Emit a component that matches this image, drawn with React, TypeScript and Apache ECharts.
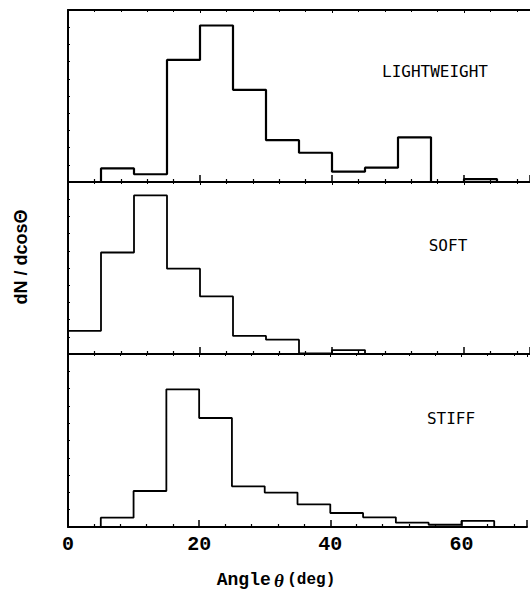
import React, { useEffect, useRef } from "react";
import * as echarts from "echarts";

// Bin edges of the angle histograms (deg)
const binEdges = [0, 5, 10, 15, 20, 25, 30, 35, 40, 45, 50, 55, 60, 65, 70];
// dN/dcosθ (arbitrary units, panel full scale = 100)
const lightweight = [0, 7.9, 4.5, 71, 91, 53.6, 24.3, 17, 6, 8.3, 26, 0, 1.7, 0];
const soft = [13.5, 59, 92.2, 49.6, 33.5, 10.5, 8.3, 0.3, 2.3, 0, 0, 0, 0, 0];
const stiff = [0, 5.4, 20.8, 79.6, 63, 23.5, 19.9, 13.1, 8.1, 5.6, 2.5, 1.3, 3.5, 0];
const panelNames = ["LIGHTWEIGHT", "SOFT", "STIFF"];
const xTickLabels = ["0", "20", "40", "60"];

const stepData = (vals: number[]) => [
  ...vals.map((v, i) => [binEdges[i], v]),
  [binEdges[binEdges.length - 1], vals[vals.length - 1]],
];

export default function App() {
  const ref = useRef<HTMLDivElement>(null);
  useEffect(() => {
    document.body.style.margin = "0";
    if (!ref.current) return;
    const chart = echarts.init(ref.current, null, { renderer: "svg" });
    const grids = [
      { left: 68, width: 462, top: 10, height: 172 },
      { left: 68, width: 462, top: 182, height: 172 },
      { left: 68, width: 462, top: 354, height: 173 },
    ];
    const seriesVals = [lightweight, soft, stiff];
    const labelPos = [
      { x: 435, y: 71 },
      { x: 448, y: 245 },
      { x: 451, y: 418 },
    ];
    const xAxes: any[] = [];
    const yAxes: any[] = [];
    grids.forEach((_, i) => {
      xAxes.push({
        type: "value",
        gridIndex: i,
        min: 0,
        max: 70,
        interval: 20,
        position: "bottom",
        axisLine: { show: true, lineStyle: { color: "#000", width: 2 } },
        axisTick: { show: true, inside: true, length: 7, lineStyle: { color: "#000", width: 1.5 } },
        minorTick: { show: true, splitNumber: 5, length: 3, lineStyle: { color: "#000", width: 1.2 } },
        splitLine: { show: false },
        axisLabel: {
          show: i === 2,
          margin: 7,
          color: "#000",
          fontFamily: "Liberation Mono",
          fontWeight: "bold",
          fontSize: 20,
          formatter: (v: number) => (xTickLabels.includes(String(v)) ? String(v) : ""),
        },
      });
      xAxes.push({
        type: "value",
        gridIndex: i,
        min: 0,
        max: 70,
        interval: 20,
        position: "top",
        axisLine: { show: true, lineStyle: { color: "#000", width: 2 } },
        axisTick: { show: true, inside: true, length: 3, lineStyle: { color: "#000", width: 1 } },
        minorTick: { show: true, splitNumber: 5, length: 2, lineStyle: { color: "#000", width: 1 } },
        splitLine: { show: false },
        axisLabel: { show: false },
      });
      yAxes.push({
        type: "value",
        gridIndex: i,
        min: 0,
        max: 100,
        interval: 10,
        axisLine: { show: true, lineStyle: { color: "#000", width: 2 } },
        axisTick: { show: true, inside: true, length: 2, lineStyle: { color: "#000", width: 1 } },
        splitLine: { show: false },
        axisLabel: { show: false },
      });
    });
    const option: any = {
      animation: false,
      grid: grids,
      xAxis: xAxes,
      yAxis: yAxes,
      series: seriesVals.map((vals, i) => ({
        type: "line",
        xAxisIndex: i * 2,
        yAxisIndex: i,
        step: "end",
        symbol: "none",
        data: stepData(vals),
        lineStyle: { color: "#000", width: i === 0 ? 2.2 : 1.8 },
      })),
      graphic: [
        ...panelNames.map((name, i) => ({
          type: "text",
          x: labelPos[i].x,
          y: labelPos[i].y,
          style: {
            text: name,
            fill: "#000",
            font: "16px 'DejaVu Sans Mono'",
            align: "center",
            verticalAlign: "middle",
          },
        })),
        {
          type: "text",
          x: 21,
          y: 257,
          rotation: Math.PI / 2,
          style: {
            text: "dN / dcosΘ",
            fill: "#000",
            font: "bold 18px 'Liberation Sans'",
            align: "center",
            verticalAlign: "middle",
          },
        },
        {
          type: "text",
          x: 276,
          y: 580,
          style: {
            text: "{a|Angle} {t|θ} {d|(deg)}",
            align: "center",
            verticalAlign: "middle",
            rich: {
              a: { fontFamily: "Liberation Mono", fontWeight: "bold", fontSize: 18, fill: "#000" },
              t: { fontFamily: "Liberation Serif", fontStyle: "italic", fontWeight: "bold", fontSize: 19, fill: "#000" },
              d: { fontFamily: "Liberation Mono", fontWeight: "bold", fontSize: 16, fill: "#000" },
            },
          },
        },
      ],
    };
    chart.setOption(option);
    return () => chart.dispose();
  }, []);
  return <div ref={ref} style={{ width: 530, height: 590 }} />;
}
